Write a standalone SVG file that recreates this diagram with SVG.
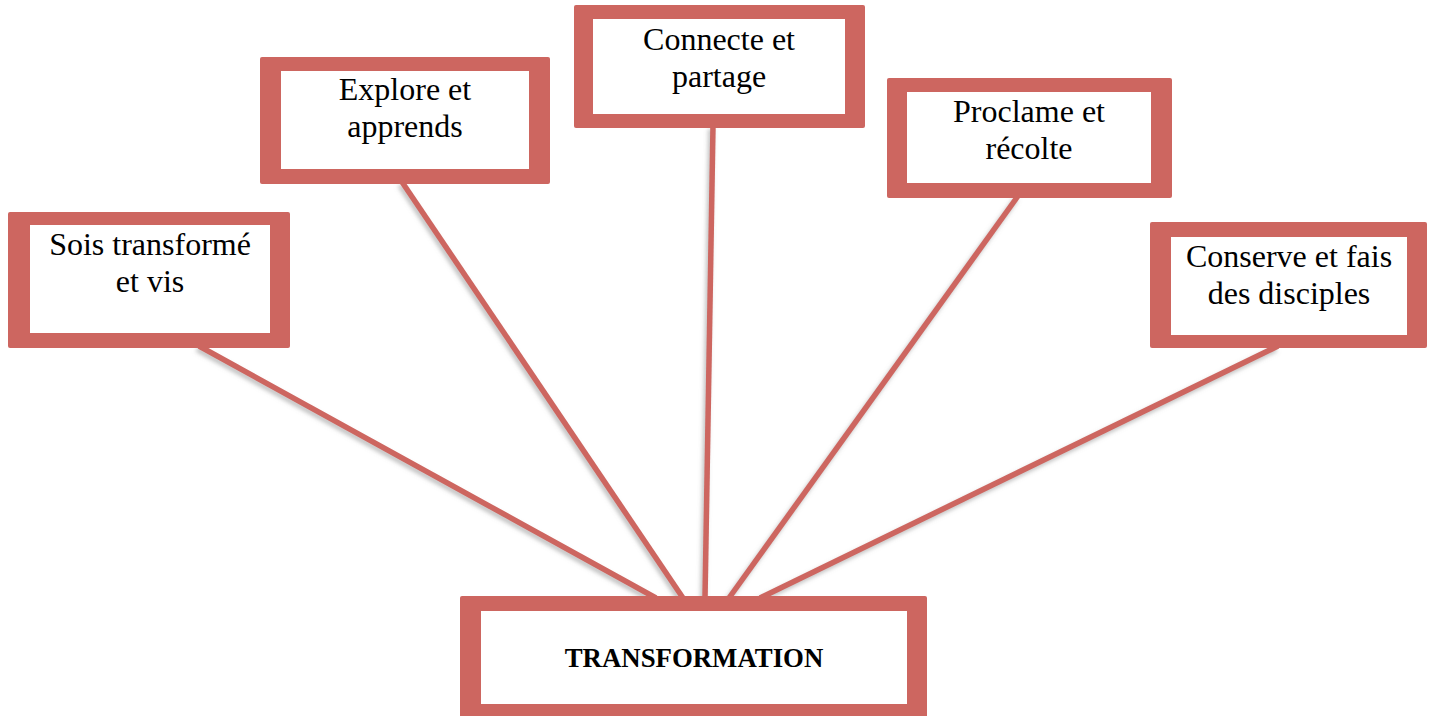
<svg xmlns="http://www.w3.org/2000/svg" width="1431" height="716" viewBox="0 0 1431 716">
<style>
.frame{fill:#CD6660}
.inner{fill:#FFFFFF}
.lbl{font-family:"Liberation Serif","Times New Roman",serif;font-size:32px;fill:#000;text-anchor:middle}
.main{font-family:"Liberation Serif","Times New Roman",serif;font-size:26.8px;font-weight:bold;fill:#000;text-anchor:middle}
.conn{stroke:#CD6660;stroke-width:5.5;fill:none}
</style>
<defs>
<filter id="sh" x="-10%" y="-10%" width="120%" height="120%">
<feDropShadow dx="-2" dy="3" stdDeviation="2" flood-color="#808080" flood-opacity="0.5"/>
</filter>
</defs>
<rect width="1431" height="716" fill="#FFFFFF"/>
<g id="connectors" filter="url(#sh)">
<line class="conn" x1="199" y1="346" x2="656" y2="598"/>
<line class="conn" x1="402" y1="182" x2="683" y2="598"/>
<line class="conn" x1="713" y1="126" x2="705" y2="598"/>
<line class="conn" x1="1018" y1="196" x2="729" y2="598"/>
<line class="conn" x1="1278" y1="346" x2="760" y2="598"/>
</g>
<g id="node-transformation">
<rect class="frame" x="460" y="596" width="467" height="122" rx="2"/>
<rect class="inner" x="481" y="611" width="426" height="93"/>
<text class="main" x="694" y="667">TRANSFORMATION</text>
</g>
<g id="node-sois">
<rect class="frame" x="8" y="212" width="282" height="136" rx="2"/>
<rect class="inner" x="30" y="225" width="240" height="108"/>
<text class="lbl" x="150" y="255">Sois transformé</text>
<text class="lbl" x="150" y="292">et vis</text>
</g>
<g id="node-explore">
<rect class="frame" x="260" y="57" width="290" height="127" rx="2"/>
<rect class="inner" x="281" y="71" width="248" height="98"/>
<text class="lbl" x="405" y="100">Explore et</text>
<text class="lbl" x="405" y="137">apprends</text>
</g>
<g id="node-connecte">
<rect class="frame" x="574" y="5" width="291" height="123" rx="2"/>
<rect class="inner" x="593" y="19" width="252" height="95"/>
<text class="lbl" x="719" y="50">Connecte et</text>
<text class="lbl" x="719" y="87">partage</text>
</g>
<g id="node-proclame">
<rect class="frame" x="887" y="78" width="285" height="120" rx="2"/>
<rect class="inner" x="907" y="92" width="244" height="91"/>
<text class="lbl" x="1029" y="122">Proclame et</text>
<text class="lbl" x="1029" y="159">récolte</text>
</g>
<g id="node-conserve">
<rect class="frame" x="1150" y="222" width="277" height="126" rx="2"/>
<rect class="inner" x="1171" y="237" width="236" height="98"/>
<text class="lbl" x="1289" y="267">Conserve et fais</text>
<text class="lbl" x="1289" y="304">des disciples</text>
</g>
</svg>
